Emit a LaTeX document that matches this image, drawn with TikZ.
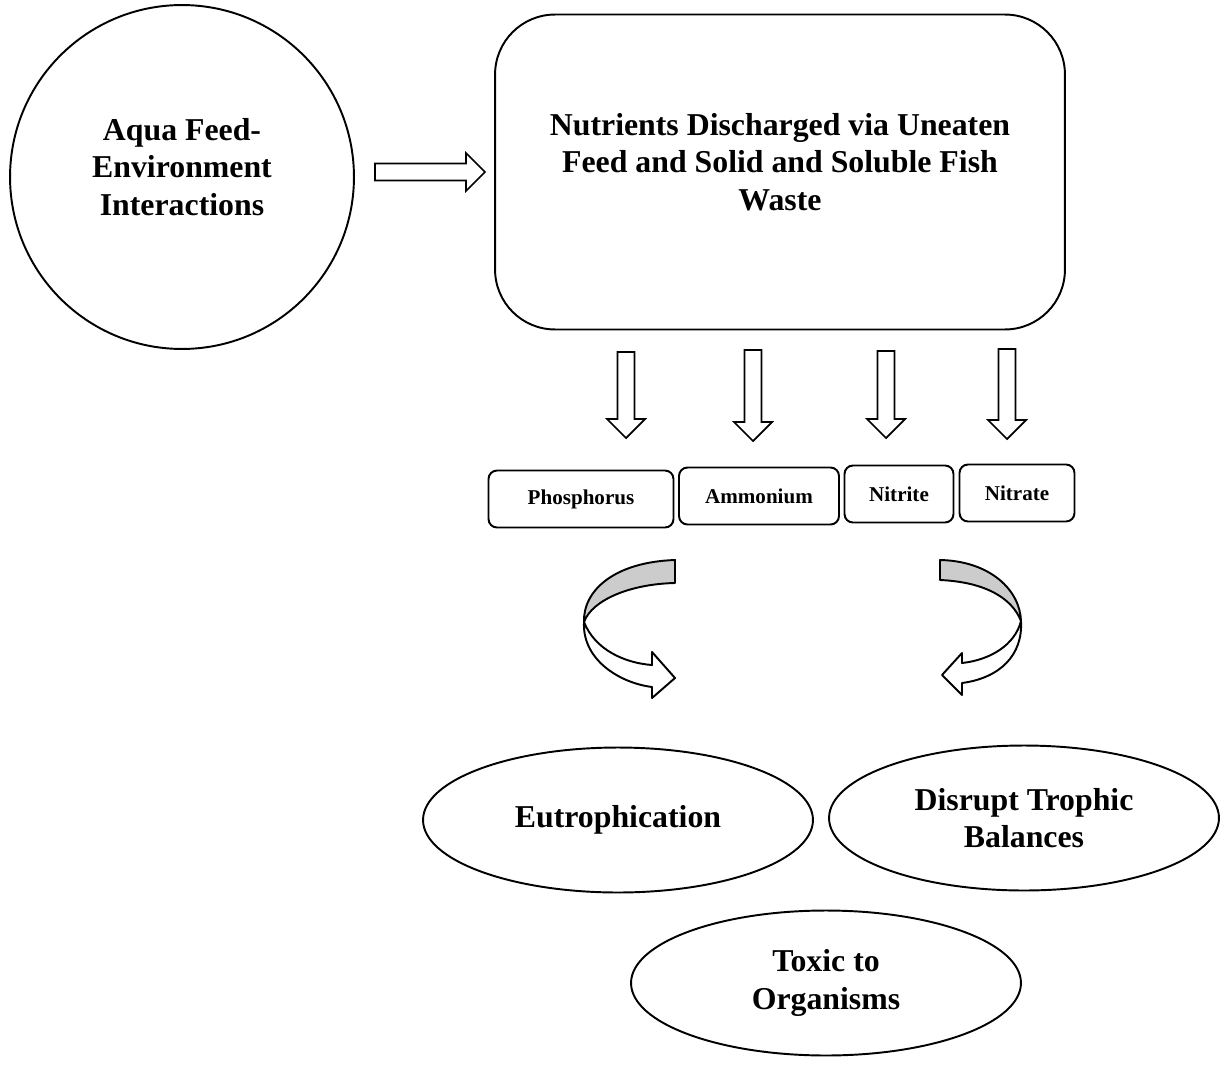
\documentclass[tikz,border=0pt]{standalone}
\usepackage{fontspec}
\setmainfont{Liberation Serif}
\usetikzlibrary{shapes.geometric,calc}

% flecha hueca de (#1) a (#2)
\newcommand{\hollowarrow}[2]{%
  \path ($(#2)!0.38cm!(#1)$) coordinate (hb);
  \draw[arrowline] ($(#1)!0.17cm!90:(#2)$) -- ($(hb)!0.17cm!90:(#2)$)
    -- ($(hb)!0.38cm!90:(#2)$) -- (#2) -- ($(hb)!0.38cm!-90:(#2)$)
    -- ($(hb)!0.17cm!-90:(#2)$) -- ($(#1)!0.17cm!-90:(#2)$) -- cycle;}

\begin{document}
\begin{tikzpicture}[x=0.02cm,y=-0.02cm,
  every node/.style={draw=black,line width=1.1pt,align=center,
    font=\fontsize{18.1}{21.3}\selectfont\bfseries},
  bigcirc/.style={circle,minimum size=6.88cm},
  bigbox/.style={rectangle,rounded corners=1.2cm,minimum width=11.4cm,minimum height=6.3cm},
  plaintext/.style={draw=none},
  smallbox/.style={rectangle,rounded corners=0.17cm,minimum height=1.14cm,
    font=\fontsize{12}{14}\selectfont\bfseries},
  oval/.style={ellipse,minimum width=7.8cm,minimum height=2.9cm,inner sep=0pt},
  arrowline/.style={draw=black,line width=1pt,fill=white,line join=miter},
  bandline/.style={draw=black,line width=1.1pt,line join=round}]
  \useasboundingbox (0,0) rectangle (1224,1092);

  % Nodo inicial y caja de nutrientes
  \node[bigcirc] (aqua) at (182,177) {};
  \node[plaintext] (aquatext) at (182,167) {Aqua Feed-\\Environment\\Interactions};
  \node[bigbox] (nutr) at (780,172) {};
  \node[plaintext] (nutrtext) at (780,162) {Nutrients Discharged via Uneaten\\Feed and Solid and Soluble Fish\\Waste};

  % Cajas de nutrientes
  \node[smallbox,minimum width=3.7cm] (phos) at (581,499) {Phosphorus};
  \node[smallbox,minimum width=3.2cm] (ammo) at (759,496) {Ammonium};
  \node[smallbox,minimum width=2.18cm] (nite) at (899,494) {Nitrite};
  \node[smallbox,minimum width=2.3cm] (nate) at (1017,493) {Nitrate};

  % Efectos
  \node[oval] (eutro) at (618,820) {Eutrophication};
  \node[oval] (troph) at (1024,818) {Disrupt Trophic\\Balances};
  \node[oval] (toxic) at (826,983) {Toxic to\\Organisms};

  % Flechas huecas
  \coordinate (r0) at (375,172);
  \coordinate (r1) at (485,172);
  \hollowarrow{r0}{r1}
  \foreach \n/\x/\top/\tip in {1/626/352/438, 2/753/350/441, 3/886/351/438, 4/1007/349/439} {
    \coordinate (d\n a) at (\x,\top);
    \coordinate (d\n b) at (\x,\tip);
    \hollowarrow{d\n a}{d\n b}
  }

  % Flecha curva izquierda
  \draw[bandline,fill=white] (584,622) .. controls (595,650) and (625,663) .. (652,665)
    -- (652,652) -- (675,678) -- (652,698) -- (652,687)
    .. controls (620,683) and (582,660) .. (584,622) -- cycle;
  \draw[bandline,fill=gray!40] (675,560) .. controls (615,562) and (583,590) .. (584,622)
    .. controls (592,600) and (630,584) .. (675,583) -- cycle;

  % Flecha curva derecha
  \draw[bandline,fill=white] (1021,621) .. controls (1015,645) and (990,660) .. (962,663)
    -- (962,653) -- (942,675) -- (962,695) -- (962,683)
    .. controls (1000,678) and (1023,655) .. (1021,621) -- cycle;
  \draw[bandline,fill=gray!40] (940,560) .. controls (990,561) and (1020,590) .. (1021,621)
    .. controls (1012,598) and (985,582) .. (940,580) -- cycle;
\end{tikzpicture}
\end{document}
